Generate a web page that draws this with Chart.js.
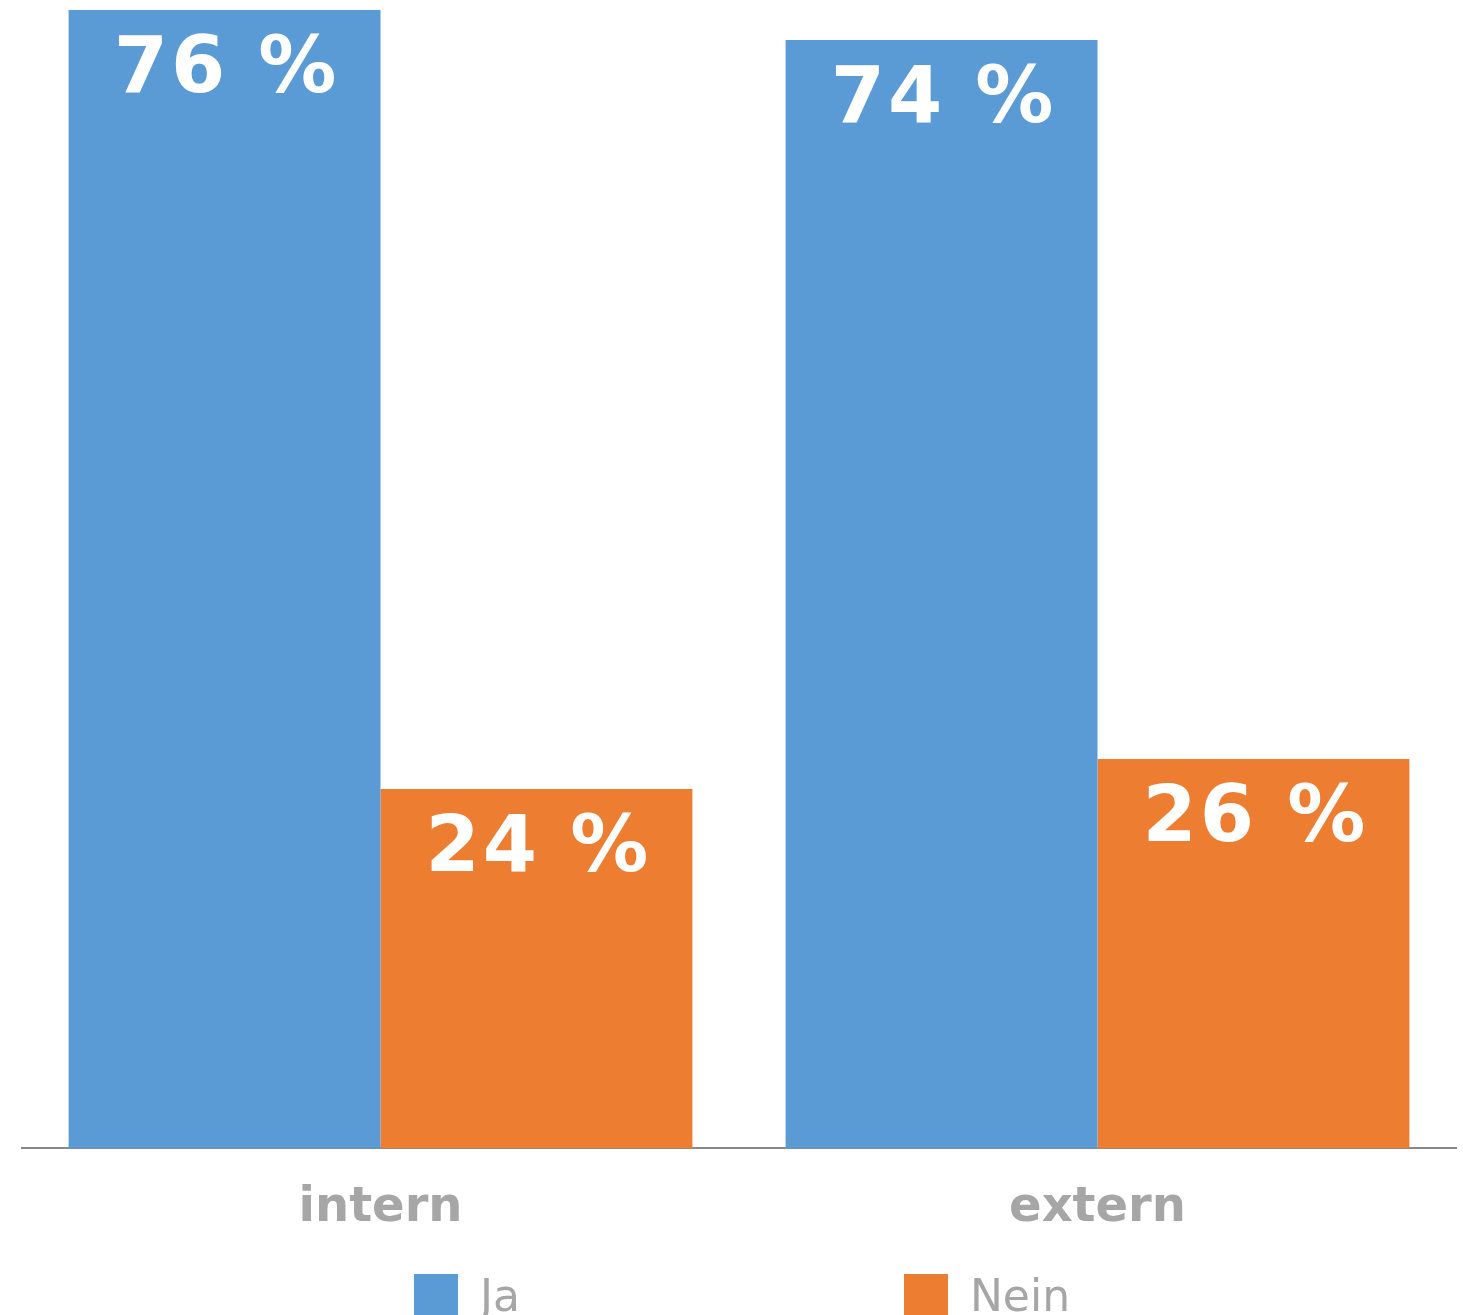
<!DOCTYPE html>
<html>
<head>
<meta charset="utf-8">
<script src="https://cdn.jsdelivr.net/npm/chart.js@4/dist/chart.umd.min.js"></script>
<style>
  html, body { margin: 0; padding: 0; background: #fff; overflow: hidden; }
  #wrap { position: relative; width: 1463px; height: 1282px; }
  #legend {
    position: absolute; top: 1270px; left: 414px;
    display: flex; gap: 384px;
    font-family: 'DejaVu Sans', sans-serif; font-size: 44px; color: #A6A6A6;
  }
  #legend .item { display: flex; align-items: center; }
  #legend .box { width: 44px; height: 44px; margin-right: 22px; }
</style>
</head>
<body>
<div id="wrap"><canvas id="myChart"></canvas></div>
<div id="legend"></div>
<script>
// categories and answers
var groups = ['intern', 'extern'];
var seriesNames = ['Ja', 'Nein'];
var ja = [76, 74];
var nein = [24, 26];
var colors = ['#5B9BD5', '#ED7D31'];

Chart.defaults.font.family = "'DejaVu Sans', sans-serif";

// writes "NN %" inside the top of each bar
var valueLabels = {
  id: 'valueLabels',
  afterDatasetsDraw: function(chart) {
    var ctx = chart.ctx;
    ctx.save();
    ctx.fillStyle = '#fff';
    ctx.font = "bold 78px 'DejaVu Sans'";
    ctx.letterSpacing = '3px';
    ctx.textAlign = 'center';
    ctx.textBaseline = 'alphabetic';
    chart.data.datasets.forEach(function(ds, i) {
      chart.getDatasetMeta(i).data.forEach(function(bar, j) {
        ctx.fillText(ds.data[j] + ' %', bar.x + 2, bar.y + 82);
      });
    });
    ctx.restore();
  }
};

var ctx = document.getElementById('myChart').getContext('2d');
var myChart = new Chart(ctx, {
  type: 'bar',
  data: {
    labels: groups,
    datasets: [
      { label: seriesNames[0], data: ja, backgroundColor: colors[0] },
      { label: seriesNames[1], data: nein, backgroundColor: colors[1] }
    ]
  },
  options: {
    responsive: true,
    maintainAspectRatio: false,
    animation: false,
    layout: { padding: { top: 10, left: 22, right: 7, bottom: 14 } },
    datasets: { bar: { categoryPercentage: 0.87, barPercentage: 1.0 } },
    plugins: { legend: { display: false }, tooltip: { enabled: false } },
    scales: {
      x: {
        grid: { display: false, drawTicks: false },
        border: { display: true, color: '#898989', width: 2 },
        ticks: { color: '#A6A6A6', padding: 31, font: { size: 48, weight: 'bold' } }
      },
      y: { display: false, min: 0, max: 76 }
    }
  },
  plugins: [valueLabels]
});

// legend below the canvas
var legend = document.getElementById('legend');
myChart.data.datasets.forEach(function(ds) {
  legend.innerHTML += '<div class="item"><span class="box" style="background:' +
    ds.backgroundColor + '"></span><span>' + ds.label + '</span></div>';
});
</script>
</body>
</html>
